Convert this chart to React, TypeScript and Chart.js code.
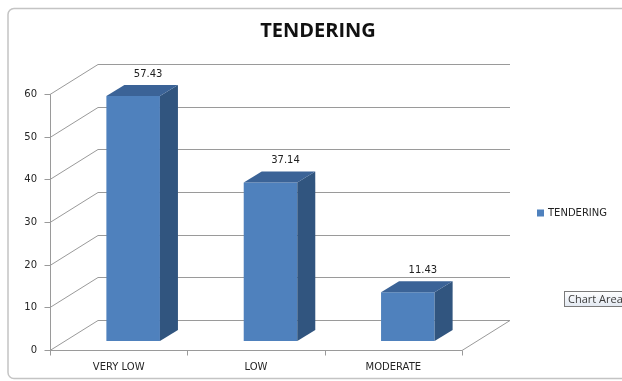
import React, { useEffect, useRef } from "react";
import { Chart, registerables } from "chart.js";

Chart.register(...registerables);

// Chart content
const chartTitle = "TENDERING";
const seriesName = "TENDERING";
const categories = ["VERY LOW", "LOW", "MODERATE"];
const tenderingValues = [57.43, 37.14, 11.43];
const yTickValues = [0, 10, 20, 30, 40, 50, 60];
const hoverLabel = "Chart Area";

// Oblique 3D projection settings
const WALL_DX = 48;
const WALL_DY = -30;
const BAR_SHIFT_X = 14.5;
const BAR_SHIFT_Y = -9;
const BAR_DX = 18;
const BAR_DY = -11;

const FRONT = "#4f81bd";
const SIDE = "#31557f";
const TOP = "#3b6397";
const GRID = "#9a9a9a";
const TEXT_FONT = "'DejaVu Sans', Verdana, sans-serif";
const TITLE_FONT = "'Open Sans', 'Noto Sans', sans-serif";

const threeDPlugin = {
  id: "threeD",
  beforeDraw(chart: any) {
    const { ctx, chartArea, scales } = chart;
    const y = scales.y;
    const x = scales.x;
    const left = chartArea.left;
    const right = chartArea.right;
    const bottom = chartArea.bottom;

    ctx.save();
    ctx.fillStyle = "#ffffff";
    ctx.fillRect(0, 0, chart.width, chart.height);

    // outer frame
    ctx.strokeStyle = "#c4c4c4";
    ctx.lineWidth = 1.5;
    ctx.beginPath();
    (ctx as any).roundRect(8, 8.5, 700, 370, 6);
    ctx.stroke();

    // title
    ctx.fillStyle = "#111111";
    ctx.font = `bold 20px ${TITLE_FONT}`;
    ctx.textAlign = "center";
    ctx.textBaseline = "middle";
    ctx.fillText(chartTitle, 318, 31);

    // side wall diagonals and back wall gridlines
    ctx.strokeStyle = GRID;
    ctx.lineWidth = 1;
    for (const v of yTickValues) {
      const py = Math.round(y.getPixelForValue(v)) + 0.5;
      ctx.beginPath();
      ctx.moveTo(left, py);
      ctx.lineTo(left + WALL_DX, py + WALL_DY);
      ctx.lineTo(right + WALL_DX, py + WALL_DY);
      ctx.stroke();
    }
    // floor front and right edges
    const by = Math.round(bottom) + 0.5;
    ctx.beginPath();
    ctx.moveTo(left, by);
    ctx.lineTo(right, by);
    ctx.lineTo(right + WALL_DX, by + WALL_DY);
    ctx.stroke();

    // value axis line and ticks
    const ax = Math.round(left) + 0.5;
    ctx.beginPath();
    ctx.moveTo(ax, by);
    ctx.lineTo(ax, Math.round(y.getPixelForValue(60)) + 0.5);
    ctx.stroke();
    ctx.fillStyle = "#262626";
    ctx.font = `10px ${TEXT_FONT}`;
    ctx.textAlign = "right";
    ctx.textBaseline = "middle";
    for (const v of yTickValues) {
      const py = Math.round(y.getPixelForValue(v)) + 0.5;
      ctx.beginPath();
      ctx.moveTo(ax - 6, py);
      ctx.lineTo(ax, py);
      ctx.stroke();
      ctx.fillText(String(v), 37, py);
    }

    // category ticks and labels
    const n = categories.length;
    const step = (right - left) / n;
    for (let i = 0; i <= n; i++) {
      const px = Math.round(left + i * step) + 0.5;
      ctx.beginPath();
      ctx.moveTo(px, by);
      ctx.lineTo(px, by + 5);
      ctx.stroke();
    }
    ctx.textAlign = "center";
    categories.forEach((c, i) => {
      ctx.fillText(c, x.getPixelForValue(i), 367);
    });

    // legend
    ctx.fillStyle = FRONT;
    ctx.fillRect(537, 209.5, 7, 7);
    ctx.fillStyle = "#222222";
    ctx.font = `10px ${TEXT_FONT}`;
    ctx.textAlign = "left";
    ctx.fillText(seriesName, 548, 213.5);

    // hover label box
    const g = ctx.createLinearGradient(0, 291, 0, 306);
    g.addColorStop(0, "#ffffff");
    g.addColorStop(1, "#e3e9f2");
    ctx.fillStyle = g;
    ctx.fillRect(564.5, 291.5, 70, 15);
    ctx.strokeStyle = "#7a7a7a";
    ctx.lineWidth = 1;
    ctx.strokeRect(564.5, 291.5, 70, 15);
    ctx.fillStyle = "#3c3c3c";
    ctx.font = `11px ${TITLE_FONT}`;
    ctx.fillText(hoverLabel, 568, 299.5);
    ctx.restore();
  },
  beforeDatasetsDraw(chart: any) {
    chart.ctx.save();
    chart.ctx.translate(BAR_SHIFT_X, BAR_SHIFT_Y);
  },
  afterDatasetsDraw(chart: any) {
    const { ctx } = chart;
    const meta = chart.getDatasetMeta(0);
    meta.data.forEach((el: any, i: number) => {
      const { x, y, base, width } = el.getProps(["x", "y", "base", "width"], true);
      const l = x - width / 2;
      const r = x + width / 2;
      // side face
      ctx.fillStyle = SIDE;
      ctx.beginPath();
      ctx.moveTo(r, y);
      ctx.lineTo(r + BAR_DX, y + BAR_DY);
      ctx.lineTo(r + BAR_DX, base + BAR_DY);
      ctx.lineTo(r, base);
      ctx.closePath();
      ctx.fill();
      // top face
      ctx.fillStyle = TOP;
      ctx.beginPath();
      ctx.moveTo(l, y);
      ctx.lineTo(l + BAR_DX, y + BAR_DY);
      ctx.lineTo(r + BAR_DX, y + BAR_DY);
      ctx.lineTo(r, y);
      ctx.closePath();
      ctx.fill();
      // value label
      ctx.fillStyle = "#222222";
      ctx.font = `10px ${TEXT_FONT}`;
      ctx.textAlign = "center";
      ctx.textBaseline = "middle";
      ctx.fillText(tenderingValues[i].toFixed(2), x + 15, y - 22);
    });
    ctx.restore();
  },
};

export default function App() {
  const canvasRef = useRef<HTMLCanvasElement | null>(null);

  useEffect(() => {
    if (!canvasRef.current) return;
    const chart = new Chart(canvasRef.current, {
      type: "bar",
      data: {
        labels: categories,
        datasets: [
          {
            label: seriesName,
            data: tenderingValues,
            backgroundColor: FRONT,
            borderWidth: 0,
            barPercentage: 0.39,
            categoryPercentage: 1,
            clip: false as any,
          },
        ],
      },
      options: {
        animation: false,
        responsive: false,
        devicePixelRatio: 1,
        layout: { padding: { left: 50, right: 160, top: 94, bottom: 31 } },
        plugins: {
          legend: { display: false },
          title: { display: false },
          tooltip: { enabled: false },
        },
        events: [],
        scales: {
          x: { display: false, offset: true },
          y: { display: false, min: 0, max: 60 },
        },
      },
      plugins: [threeDPlugin],
    });
    return () => chart.destroy();
  }, []);

  return (
    <div style={{ position: "fixed", left: 0, top: 0, width: 622, height: 381, background: "#fff" }}>
      <canvas ref={canvasRef} width={622} height={381} style={{ display: "block" }} />
    </div>
  );
}
